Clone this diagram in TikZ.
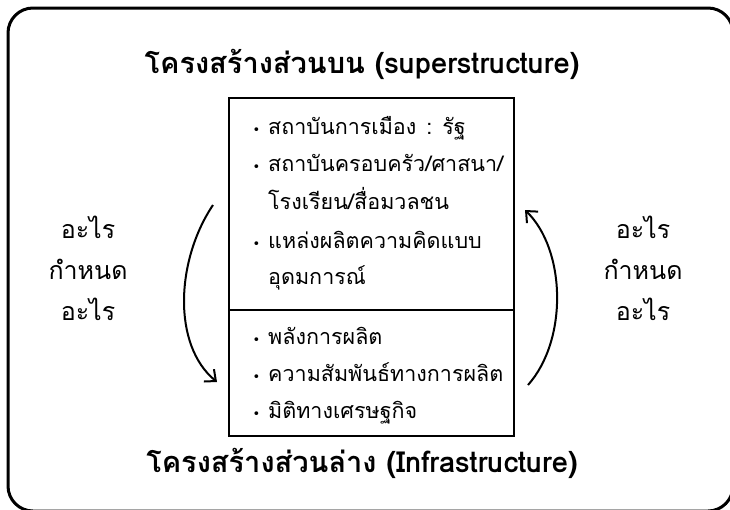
\documentclass[tikz,border=0pt]{standalone}
\usepackage{fontspec}
\setmainfont{Loma}[Script=Thai]
\newfontfamily\symfont{DejaVu Sans}
\usepackage{tikz}
\usetikzlibrary{arrows.meta}
\newcommand{\bul}{\llap{{\symfont\fontsize{13}{13}\selectfont •}\hspace{8pt}}}
\tikzset{
  titulo/.style={font=\fontsize{29}{32}\selectfont\bfseries},
  texto/.style={font=\fontsize{21.5}{26}\selectfont, anchor=base west, inner sep=0pt},
  caja/.style={draw, line width=2.4pt, minimum width=285pt, inner sep=0pt},
  pregunta/.style={align=center, font=\fontsize{25}{41}\selectfont},
  flecha/.style={line width=2pt, -{Straight Barb[length=9pt,width=16pt,line width=2pt]}}
}

\begin{document}
\begin{tikzpicture}[x=1pt,y=-1pt]
            \useasboundingbox (0,0) rectangle (730,509);

            % Marco
            \draw[line width=3pt, rounded corners=25pt] (8,8) rectangle (733,511);

            % Titulos
            \node[titulo] (sup) at (362,64) {โครงสร้างส่วนบน (superstructure)};
            \node[titulo] (inf) at (362,463) {โครงสร้างส่วนล่าง (Infrastructure)};

            % Cajas
            \node[caja, minimum height=212pt] (cajasup) at (371.5,204) {};
            \node[caja, minimum height=126pt] (cajainf) at (371.5,373) {};

            % Texto de la caja superior
            \node[texto] (s1) at (268,134) {\bul สถาบันการเมือง\hspace{10pt}:\hspace{10pt}รัฐ};
            \node[texto] (s2) at (268,171) {\bul สถาบันครอบครัว/ศาสนา/};
            \node[texto] (s3) at (268,209) {โรงเรียน/สื่อมวลชน};
            \node[texto] (s4) at (268,248) {\bul แหล่งผลิตความคิดแบบ};
            \node[texto] (s5) at (268,284) {อุดมการณ์};

            % Texto de la caja inferior
            \node[texto] (i1) at (268,344) {\bul พลังการผลิต};
            \node[texto] (i2) at (268,381) {\bul ความสัมพันธ์ทางการผลิต};
            \node[texto] (i3) at (268,418) {\bul มิติทางเศรษฐกิจ};

            % Preguntas
            \node[pregunta] (izq) at (88,268) {อะไร\\กำหนด\\อะไร};
            \node[pregunta] (der) at (643,268) {อะไร\\กำหนด\\อะไร};

            % Flechas
            \coordinate (a1) at (213,205);
            \coordinate (a2) at (217,382);
            \coordinate (b1) at (528,385);
            \coordinate (b2) at (525,210);
            \draw[flecha] (a1) .. controls (176,260) and (172,345) .. (a2);
            \draw[flecha] (b1) .. controls (568,340) and (566,250) .. (b2);
        \end{tikzpicture}
\end{document}
